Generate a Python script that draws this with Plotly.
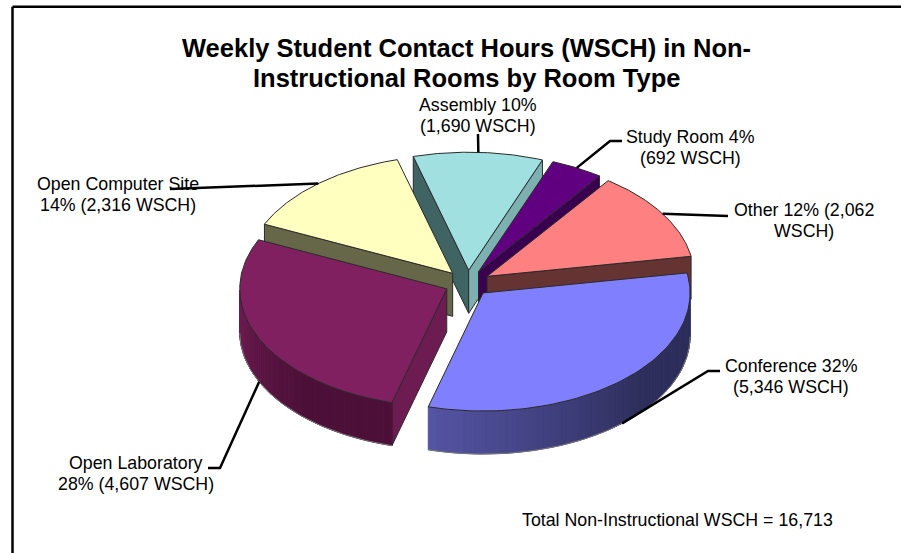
import numpy as np
import plotly.graph_objects as go

room_types = ['Conference', 'Open Laboratory', 'Open Computer Site', 'Assembly', 'Study Room', 'Other']
wsch = [5346, 4607, 2316, 1690, 692, 2062]
labels = [
    ['Conference 32%', '(5,346 WSCH)'],
    ['Open Laboratory', '28% (4,607 WSCH)'],
    ['Open Computer Site', '14% (2,316 WSCH)'],
    ['Assembly 10%', '(1,690 WSCH)'],
    ['Study Room 4%', '(692 WSCH)'],
    ['Other 12% (2,062', 'WSCH)'],
]
total_note = 'Total Non-Instructional WSCH = 16,713'
title_lines = ['Weekly Student Contact Hours (WSCH) in Non-', 'Instructional Rooms by Room Type']

# pie projection, in page pixels
CX, CY = 467.6, 283.3
RX, RY = 207, 118
DEPTH = 43
EXPLODE = 23
START = -9.8

top_colors = ['#8080FF', '#802060', '#FFFFC0', '#A0E0E0', '#600080', '#FF8080']
start_face = ['#303060', '#6C1C50', '#666648', '#406464', '#3A0050', '#663333']
end_face = ['#303060', '#4C1038', '#666648', '#7DB0B0', '#3A0050', '#663333']
wall_left = ['#5454A4', '#701C54', '#666648', '#406464', '#3A0050', '#663333']
wall_right = ['#2E2E5C', '#4C1038', '#666648', '#406464', '#3A0050', '#663333']

# label centre (x, first line y) and leader elbows for each slice
label_pos = [(791, 366), (136, 463), (118, 184), (478, 105), (690, 137), (804, 210)]
line_gap = 21
leader_ends = [
    [(708, 371), (720, 371)],
    [(220, 468), (208, 468)],
    [(170, 189)],
    [(478, 134)],
    [(610, 141), (622, 141)],
    [(728, 216)],
]
draw_order = [3, 4, 5, 2, 1, 0]

total = sum(wsch)
spans = [v / total * 360 for v in wsch]
starts = [START + sum(spans[:i]) for i in range(len(wsch))]


def hex_mix(c1, c2, t):
    a = [int(c1[i:i + 2], 16) for i in (1, 3, 5)]
    b = [int(c2[i:i + 2], 16) for i in (1, 3, 5)]
    return 'rgb(%d,%d,%d)' % tuple(round(p + (q - p) * t) for p, q in zip(a, b))


def polygon(fig, xs, ys, color, line='#2A2A2A', width=1):
    fig.add_trace(go.Scatter(
        x=xs, y=ys, mode='lines', fill='toself', fillcolor=color,
        line=dict(color=line, width=width), hoverinfo='skip', showlegend=False
    ))


fig = go.Figure()

for i in draw_order:
    a0, a1 = starts[i], starts[i] + spans[i]
    mid = np.radians((a0 + a1) / 2)
    ax = CX + EXPLODE * np.cos(mid)
    ay = CY + EXPLODE * RY / RX * np.sin(mid)

    t = np.radians(np.linspace(a0, a1, 80))
    rim_x = ax + RX * np.cos(t)
    rim_y = ay + RY * np.sin(t)

    # radial faces, only the ones turned towards the viewer
    if np.cos(t[0]) < 0:
        polygon(fig, [ax, rim_x[0], rim_x[0], ax, ax],
                [ay, rim_y[0], rim_y[0] + DEPTH, ay + DEPTH, ay], start_face[i])
    if np.cos(t[-1]) > 0:
        polygon(fig, [ax, rim_x[-1], rim_x[-1], ax, ax],
                [ay, rim_y[-1], rim_y[-1] + DEPTH, ay + DEPTH, ay], end_face[i])

    # outer wall as narrow facets so the shading runs across it
    front = np.sin(t) > 0
    if front.any():
        fx, fy = rim_x[front], rim_y[front]
        order = np.argsort(fx)
        fx, fy = fx[order], fy[order]
        for k in range(len(fx) - 1):
            shade = hex_mix(wall_left[i], wall_right[i], min(1, k / (len(fx) * 0.6)))
            polygon(fig, [fx[k], fx[k + 1], fx[k + 1], fx[k], fx[k]],
                    [fy[k], fy[k + 1], fy[k + 1] + DEPTH, fy[k] + DEPTH, fy[k]],
                    shade, line=shade, width=1)
        fig.add_trace(go.Scatter(x=fx, y=fy + DEPTH, mode='lines', hoverinfo='skip', showlegend=False,
                                 line=dict(color='#777777', width=1)))

    # top of the slice
    polygon(fig, [ax] + list(rim_x) + [ax], [ay] + list(rim_y) + [ay], top_colors[i])

# leader lines start on the rim at the middle of each slice
for i in range(len(wsch)):
    mid = np.radians(starts[i] + spans[i] / 2)
    ax = CX + EXPLODE * np.cos(mid)
    ay = CY + EXPLODE * RY / RX * np.sin(mid)
    px = ax + RX * np.cos(mid)
    py = ay + RY * np.sin(mid) + (DEPTH if np.sin(mid) > 0 else 0)
    ends = leader_ends[i]
    fig.add_trace(go.Scatter(
        x=[px] + [e[0] for e in ends], y=[py] + [e[1] for e in ends], mode='lines',
        line=dict(color='black', width=2.5), hoverinfo='skip', showlegend=False
    ))

annotations = []
for p, lines in zip(label_pos, labels):
    for n, txt in enumerate(lines):
        annotations.append(dict(x=p[0], y=p[1] + n * line_gap, text=txt, showarrow=False,
                                xanchor='center', yanchor='middle'))
annotations.append(dict(x=520, y=520, text=total_note, showarrow=False, xanchor='left', yanchor='middle'))
for n, txt in enumerate(title_lines):
    annotations.append(dict(x=466.5, y=48 + n * 30, text='<b>%s</b>' % txt, showarrow=False,
                            xanchor='center', yanchor='middle', font=dict(size=25.5)))

fig.update_layout(
    width=901, height=553,
    margin=dict(l=0, r=0, t=0, b=0),
    paper_bgcolor='white', plot_bgcolor='white',
    font=dict(family='Liberation Sans', size=17.8, color='black'),
    xaxis=dict(range=[0, 901], visible=False),
    yaxis=dict(range=[553, 0], visible=False),
    annotations=annotations,
    shapes=[
        dict(type='line', x0=12.5, y0=6.7, x1=901, y1=6.7, line=dict(color='black', width=2.5)),
        dict(type='line', x0=12.5, y0=6.7, x1=12.5, y1=553, line=dict(color='black', width=2.5)),
    ],
)

fig.write_html("out.html", config=dict(displayModeBar=False), post_script="document.body.style.margin='0';")
